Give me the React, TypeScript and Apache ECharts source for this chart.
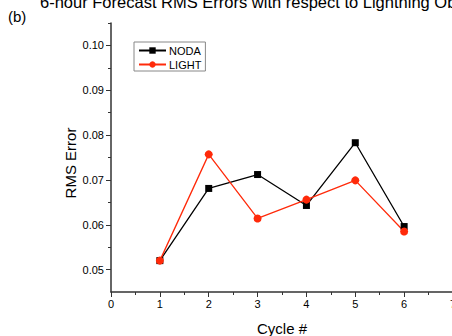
import React, { useEffect, useRef } from "react";
import * as echarts from "echarts";

const cycles = [1, 2, 3, 4, 5, 6];
const nodaValues = [0.052, 0.0681, 0.0712, 0.0643, 0.0783, 0.0596];
const lightValues = [0.052, 0.0757, 0.0614, 0.0656, 0.0699, 0.0585];
const yMajorTicks = [0.05, 0.06, 0.07, 0.08, 0.09, 0.1];
const yMinorTicks = [0.055, 0.065, 0.075, 0.085, 0.095, 0.105];
const titleText = "6-hour Forecast RMS Errors with respect to Lightning Observations";
const yAxisTitle = "RMS Error";
const xAxisTitle = "Cycle #";

export default function App() {
  const ref = useRef<HTMLDivElement>(null);
  useEffect(() => {
    const chart = echarts.init(ref.current!, null, { renderer: "svg" });
    const font = "Liberation Sans, Arial, sans-serif";
    const axisColor = "#333";
    chart.setOption({
      animation: false,
      textStyle: { fontFamily: font },
      graphic: [
        {
          type: "text",
          left: 40,
          top: -7,
          style: { text: titleText, font: `16.5px ${font}`, fill: "#000" },
        },
        {
          type: "text",
          left: 8,
          top: 9,
          style: { text: "(b)", font: `15px ${font}`, fill: "#000" },
        },
        {
          type: "text",
          x: 70,
          y: 163,
          rotation: Math.PI / 2,
          style: {
            text: yAxisTitle,
            font: `15px ${font}`,
            fill: "#000",
            align: "center",
            verticalAlign: "middle",
          },
        },
      ],
      grid: { left: 111, top: 23, width: 342, height: 269, containLabel: false, outerBoundsMode: "none" },
      legend: {
        left: 134,
        top: 42,
        orient: "vertical",
        padding: [3, 4, 1, 4],
        itemGap: 3,
        itemWidth: 27,
        itemHeight: 8,
        borderColor: "#888",
        borderWidth: 1,
        borderRadius: 0,
        textStyle: { fontSize: 11, color: "#000", fontFamily: font, padding: [0, 0, 0, -2] },
        data: ["NODA", "LIGHT"],
      },
      xAxis: {
        type: "value",
        min: 0,
        max: 7,
        interval: 1,
        name: xAxisTitle,
        nameLocation: "middle",
        nameGap: 29,
        nameTextStyle: { fontSize: 15, color: "#000", fontFamily: font },
        axisLine: { onZero: false, lineStyle: { color: axisColor, width: 1.5 } },
        axisTick: { inside: false, length: 5, lineStyle: { color: axisColor } },
        minorTick: { show: true, splitNumber: 2, length: 3, lineStyle: { color: axisColor } },
        axisLabel: { fontSize: 11, color: "#000", margin: 6, fontFamily: font },
        splitLine: { show: false },
      },
      yAxis: [
        {
          type: "value",
          min: 0.045,
          max: 0.105,
          axisLine: { show: true, onZero: false, lineStyle: { color: axisColor, width: 1.5 } },
          axisTick: { show: true, length: 5, customValues: yMajorTicks, lineStyle: { color: axisColor } },
          axisLabel: {
            fontSize: 11,
            color: "#000",
            margin: 7,
            fontFamily: font,
            customValues: yMajorTicks,
            formatter: (v: number) => v.toFixed(2),
          },
          splitLine: { show: false },
        },
        {
          type: "value",
          position: "left",
          min: 0.045,
          max: 0.105,
          axisLine: { show: false },
          axisTick: { show: true, length: 3, customValues: yMinorTicks, lineStyle: { color: axisColor } },
          axisLabel: { show: false, customValues: yMinorTicks },
          splitLine: { show: false },
        },
      ],
      series: [
        {
          name: "NODA",
          type: "line",
          data: cycles.map((c, i) => [c, nodaValues[i]]),
          symbol: "rect",
          symbolSize: 7,
          itemStyle: { color: "#000" },
          lineStyle: { color: "#000", width: 1.3 },
        },
        {
          name: "LIGHT",
          type: "line",
          data: cycles.map((c, i) => [c, lightValues[i]]),
          symbol: "circle",
          symbolSize: 8,
          itemStyle: { color: "#ff2a0a" },
          lineStyle: { color: "#ff2a0a", width: 1.3 },
        },
      ],
    });
    return () => chart.dispose();
  }, []);
  return <div ref={ref} style={{ width: 452, height: 336, position: "absolute", left: 0, top: 0 }} />;
}
